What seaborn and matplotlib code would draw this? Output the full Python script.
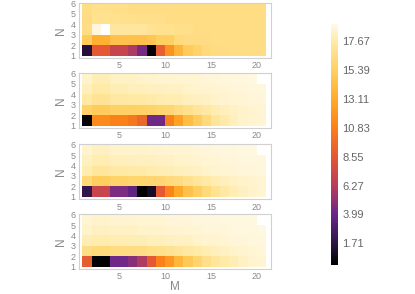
import numpy as np
import matplotlib
matplotlib.use("Agg")
import matplotlib.pyplot as plt
from matplotlib.colors import LinearSegmentedColormap
import seaborn as sns

nan = np.nan

# M = 1..20 (columns), N = 1..5 (rows, N=1 first)
m_ticks = [5, 10, 15, 20]
n_ticks = [1, 2, 3, 4, 5, 6]
cbar_ticks = [1.71, 3.99, 6.27, 8.55, 10.83, 13.11, 15.39, 17.67]

panel1 = [
    [1.4, 8.6, 8.6, 7.0, 7.0, 6.0, 4.4, 0.2, 8.9, 11.8, 13.7, 15.1, 15.7, 16.2, 16.4, 16.5, 16.6, 16.6, 16.6, 16.6],
    [15.1, 13.4, 13.4, 14.5, 14.5, 14.5, 14.5, 14.8, 15.4, 15.4, 16.2, 16.4, 16.5, 16.5, 16.6, 16.6, 16.6, 16.6, 16.6, 16.6],
    [16.6, 18.8, nan, 17.4, 17.4, 17.4, 17.3, 17.0, 16.9, 16.9, 16.7, 16.7, 16.6, 16.6, 16.6, 16.6, 16.6, 16.6, 16.6, 16.6],
    [16.5, 16.9, 16.9, 16.9, 16.8, 16.8, 16.7, 16.7, 16.7, 16.6, 16.6, 16.6, 16.6, 16.6, 16.6, 16.6, 16.6, 16.6, 16.6, 16.6],
    [16.6, 16.8, 16.8, 16.7, 16.7, 16.6, 16.6, 16.6, 16.6, 16.6, 16.6, 16.6, 16.6, 16.6, 16.6, 16.6, 16.6, 16.6, 16.6, 16.6],
]
panel2 = [
    [0.2, 11.4, 11.4, 10.8, 10.8, 10.4, 9.4, 4.2, 4.2, 10.8, 12.6, 14.2, 15.2, 16.3, 17.2, 17.7, 18.1, 18.4, 18.5, 18.6],
    [15.6, 15.1, 15.1, 15.5, 15.5, 15.5, 15.6, 15.7, 15.8, 16.0, 16.4, 16.8, 17.2, 17.5, 17.8, 18.1, 18.3, 18.4, 18.5, 18.6],
    [17.6, 17.1, 17.1, 17.5, 17.5, 17.6, 17.6, 17.7, 17.8, 17.9, 18.0, 18.1, 18.2, 18.3, 18.4, 18.5, 18.6, 18.6, 18.7, 18.7],
    [18.1, 17.7, 17.7, 18.0, 18.0, 18.1, 18.1, 18.2, 18.2, 18.3, 18.3, 18.4, 18.5, 18.5, 18.6, 18.6, 18.7, 18.7, 18.8, 18.8],
    [18.4, 18.0, 18.0, 18.3, 18.3, 18.3, 18.4, 18.4, 18.5, 18.5, 18.6, 18.6, 18.6, 18.7, 18.7, 18.8, 18.8, 18.8, 18.9, nan],
]
panel3 = [
    [1.9, 7.0, 7.0, 4.6, 4.6, 3.7, 0.0, 0.9, 8.6, 11.1, 13.0, 14.5, 15.4, 16.2, 17.0, 17.5, 17.9, 18.2, 18.4, 18.6],
    [16.1, 15.3, 15.3, 15.7, 15.7, 15.8, 15.8, 15.9, 16.0, 16.2, 16.5, 16.9, 17.3, 17.6, 17.9, 18.1, 18.3, 18.4, 18.5, 18.6],
    [17.8, 17.3, 17.3, 17.6, 17.6, 17.7, 17.7, 17.8, 17.9, 18.0, 18.1, 18.2, 18.3, 18.4, 18.5, 18.6, 18.6, 18.7, 18.7, 18.8],
    [18.2, 17.9, 17.9, 18.1, 18.1, 18.1, 18.2, 18.2, 18.3, 18.3, 18.4, 18.4, 18.5, 18.6, 18.6, 18.7, 18.7, 18.8, 18.8, 18.8],
    [18.5, 18.2, 18.2, 18.4, 18.4, 18.4, 18.4, 18.5, 18.5, 18.6, 18.6, 18.6, 18.7, 18.7, 18.8, 18.8, 18.8, 18.9, 18.9, nan],
]
panel4 = [
    [8.8, 0.1, 0.1, 4.2, 4.2, 4.9, 6.0, 8.6, 10.8, 12.2, 13.8, 15.0, 15.9, 16.7, 17.3, 17.7, 18.0, 18.3, 18.5, 18.6],
    [16.6, 16.2, 16.2, 16.4, 16.4, 16.5, 16.6, 16.7, 16.8, 17.0, 17.2, 17.5, 17.7, 17.9, 18.1, 18.3, 18.4, 18.5, 18.6, 18.7],
    [18.0, 17.8, 17.8, 17.9, 17.9, 18.0, 18.0, 18.1, 18.1, 18.2, 18.3, 18.3, 18.4, 18.5, 18.5, 18.6, 18.7, 18.7, 18.8, 18.8],
    [18.4, 18.2, 18.2, 18.3, 18.3, 18.3, 18.4, 18.4, 18.4, 18.5, 18.5, 18.6, 18.6, 18.7, 18.7, 18.7, 18.8, 18.8, 18.8, 18.9],
    [18.6, 18.4, 18.4, 18.5, 18.5, 18.5, 18.6, 18.6, 18.6, 18.7, 18.7, 18.7, 18.8, 18.8, 18.8, 18.9, 18.9, 18.9, 18.9, nan],
]
panels = [panel1, panel2, panel3, panel4]

# sunset-like colormap
nodes = [
    (0.00, (0, 0, 0)),
    (0.09, (45, 20, 70)),
    (0.21, (105, 38, 140)),
    (0.33, (185, 62, 90)),
    (0.45, (228, 88, 52)),
    (0.57, (250, 128, 25)),
    (0.69, (255, 172, 42)),
    (0.81, (255, 208, 98)),
    (0.93, (255, 234, 168)),
    (1.00, (255, 250, 232)),
]
cmap = LinearSegmentedColormap.from_list(
    "sunset", [(p, tuple(c / 255 for c in rgb)) for p, rgb in nodes])
cmap.set_bad("white")

sns.set_style("white")
plt.rcParams["font.family"] = ["Liberation Sans", "DejaVu Sans"]

grey = "#8a8a8a"
frame = "#d0d0d0"

fig = plt.figure(figsize=(4.15, 2.94), dpi=100)
bottoms = [0.803, 0.565, 0.323, 0.085]
cax = fig.add_axes([0.798, 0.099, 0.017, 0.82])

for i, (data, b) in enumerate(zip(panels, bottoms)):
    ax = fig.add_axes([0.19, b, 0.463, 0.187])
    sns.heatmap(np.array(data), ax=ax, cmap=cmap, vmin=0, vmax=19.06,
                cbar=(i == 0), cbar_ax=cax if i == 0 else None,
                xticklabels=False, yticklabels=False)
    ax.set_xlim(-0.38, 20.55)
    ax.set_ylim(-0.2, 5.05)
    ax.set_xticks([m - 1 for m in m_ticks])
    ax.set_xticklabels([str(m) for m in m_ticks])
    ax.set_yticks([n - 1 for n in n_ticks])
    ax.set_yticklabels([str(n) for n in n_ticks])
    ax.tick_params(colors=frame, labelcolor=grey, labelsize=6.5,
                   length=1.5, width=0.6, pad=1)
    for s in ax.spines.values():
        s.set_visible(True)
        s.set_color(frame)
        s.set_linewidth(0.8)
    ax.set_ylabel("N", color=grey, fontsize=8.5, labelpad=2)
    if i == 3:
        ax.set_xlabel("M", color=grey, fontsize=8.5, labelpad=0)
    else:
        ax.set_xlabel("")

cax.set_yticks(cbar_ticks)
cax.set_yticklabels([f"{t:.2f}" for t in cbar_ticks])
cax.tick_params(length=0, labelcolor="#666666", labelsize=8, pad=3)
for s in cax.spines.values():
    s.set_visible(False)

fig.savefig("out.png", dpi=100)
